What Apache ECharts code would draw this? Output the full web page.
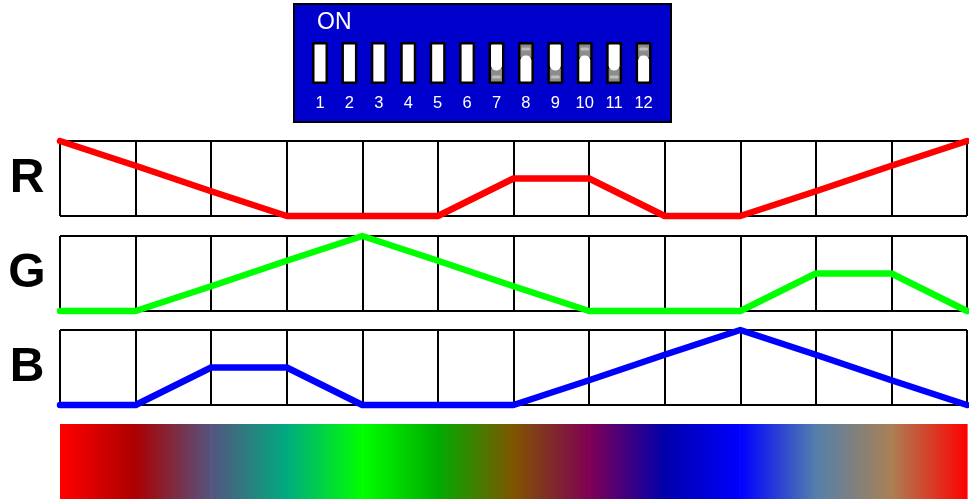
<!DOCTYPE html>
<html>
<head>
<meta charset="utf-8">
<script src="https://cdn.jsdelivr.net/npm/echarts@6/dist/echarts.min.js"></script>
<style>html,body{margin:0;padding:0;background:#fff}#c{width:969px;height:499px}</style>
</head>
<body>
<div id="c"></div>
<script>
// ---- data ----
var positions = [0,1,2,3,4,5,6,7,8,9,10,11,12];
var redValues   = [1, 0.67, 0.33, 0, 0, 0, 0.5, 0.5, 0, 0, 0.33, 0.67, 1];
var greenValues = [0, 0, 0.33, 0.67, 1, 0.67, 0.33, 0, 0, 0, 0.5, 0.5, 0];
var blueValues  = [0, 0, 0.5, 0.5, 0, 0, 0, 0.33, 0.67, 1, 0.67, 0.33, 0];
var channelLabels = ['R', 'G', 'B'];
var switchLabels = ['1','2','3','4','5','6','7','8','9','10','11','12'];
// 0 = plain, 1 = actuator shaded at bottom, 2 = actuator shaded at top
var switchStates = [0,0,0,0,0,0,1,2,1,2,1,2];
var switchTitle = 'ON';

var FONT = '"Liberation Sans", Arial, sans-serif';
var chart = echarts.init(document.getElementById('c'), null, {renderer: 'canvas'});

function pairs(vals) { return positions.map(function (p, i) { return [p, vals[i]]; }); }
function toColor(i) {
  return 'rgb(' + Math.round(redValues[i] * 255) + ',' + Math.round(greenValues[i] * 255) + ',' + Math.round(blueValues[i] * 255) + ')';
}
var stopColors = positions.map(function (p, i) { return toColor(i); });

var panelTops = [141, 236, 330];
var grids = [{left: 305.3, width: 353, top: 42, height: 42, containLabel: false, outerBoundsMode: 'none'}];
panelTops.forEach(function (t) { grids.push({left: 60, width: 907, top: t, height: 75, containLabel: false, outerBoundsMode: 'none'}); });
grids.push({left: 60, width: 907, top: 424, height: 80, containLabel: false, outerBoundsMode: 'none'});

var xAxes = [{
  gridIndex: 0, type: 'category', data: switchLabels,
  axisLine: {show: false}, axisTick: {show: false}, splitLine: {show: false},
  axisLabel: {color: '#fff', fontSize: 16.5, fontFamily: FONT, margin: 11}
}];
var yAxes = [{gridIndex: 0, type: 'value', min: 0, max: 1, show: false}];
for (var g = 1; g <= 3; g++) {
  xAxes.push({
    gridIndex: g, type: 'value', min: 0, max: 12, interval: 1,
    axisLine: {show: false}, axisTick: {show: false}, axisLabel: {show: false},
    splitLine: {show: true, lineStyle: {color: '#000', width: 2}}
  });
  yAxes.push({
    gridIndex: g, type: 'value', min: 0, max: 1, interval: 1,
    name: channelLabels[g - 1], nameLocation: 'middle', nameRotate: 0, nameGap: 33,
    nameTextStyle: {fontSize: 48, fontWeight: 'bold', color: '#000', fontFamily: FONT, align: 'center'},
    axisLine: {show: false}, axisTick: {show: false}, axisLabel: {show: false},
    splitLine: {show: true, lineStyle: {color: '#000', width: 2}}
  });
}
xAxes.push({gridIndex: 4, type: 'value', min: 0, max: 12, show: false});
yAxes.push({gridIndex: 4, type: 'value', min: 0, max: 1, show: false});

function lineSeries(idx, vals, color) {
  return {
    type: 'line', xAxisIndex: idx, yAxisIndex: idx, data: pairs(vals),
    showSymbol: false, symbol: 'none', clip: false, animation: false, z: 5,
    lineStyle: {color: color, width: 6.5, cap: 'round', join: 'round'}
  };
}

var option = {
  animation: false,
  backgroundColor: '#fff',
  grid: grids,
  xAxis: xAxes,
  yAxis: yAxes,
  graphic: [
    {type: 'rect', z: -10, shape: {x: 294, y: 4, width: 377, height: 118},
     style: {fill: '#0000CC', stroke: '#000', lineWidth: 2}},
    {type: 'text', z: 10, left: 317, top: 11,
     style: {text: switchTitle, fill: '#fff', font: '23px ' + FONT}}
  ],
  series: [
    {
      type: 'custom', xAxisIndex: 0, yAxisIndex: 0, z: 5,
      data: switchStates.map(function (s, i) { return [i, s]; }),
      renderItem: function (params, api) {
        var i = api.value(0), s = api.value(1);
        var top = api.coord([i, 1]), bot = api.coord([i, 0]);
        var w = 16, x = top[0] - w / 2, y = top[1], h = bot[1] - top[1];
        var ix = x + 2.5, iw = w - 5, iy = y + 2.5, ih = h - 5;
        var children = [{type: 'rect', shape: {x: x, y: y, width: w, height: h, r: 1.5}, style: {fill: '#000'}}];
        var grayH = 11;
        if (s === 0) {
          children.push({type: 'rect', shape: {x: ix, y: iy, width: iw, height: ih}, style: {fill: '#fff'}});
        } else if (s === 1) {
          children.push({type: 'rect', shape: {x: ix, y: iy + ih - grayH - 2, width: iw, height: grayH + 2}, style: {fill: '#8c8c8c'}});
          children.push({type: 'rect', shape: {x: ix + 1, y: iy + ih - 6, width: iw - 2, height: 3, r: 1.5}, style: {fill: '#bdbdbd'}});
          children.push({type: 'rect', shape: {x: ix, y: iy, width: iw, height: ih - grayH, r: [1, 1, 5, 5]}, style: {fill: '#fff'}});
        } else {
          children.push({type: 'rect', shape: {x: ix, y: iy, width: iw, height: grayH + 2}, style: {fill: '#8c8c8c'}});
          children.push({type: 'rect', shape: {x: ix + 1, y: iy + 3, width: iw - 2, height: 3, r: 1.5}, style: {fill: '#bdbdbd'}});
          children.push({type: 'rect', shape: {x: ix, y: iy + grayH, width: iw, height: ih - grayH, r: [5, 5, 1, 1]}, style: {fill: '#fff'}});
        }
        return {type: 'group', children: children};
      }
    },
    lineSeries(1, redValues, '#ff0000'),
    lineSeries(2, greenValues, '#00ff00'),
    lineSeries(3, blueValues, '#0000ff'),
    {
      type: 'custom', xAxisIndex: 4, yAxisIndex: 4,
      data: positions.slice(0, positions.length - 1).map(function (p) { return [p]; }),
      renderItem: function (params, api) {
        var i = api.value(0);
        var a = api.coord([i, 1]), b = api.coord([i + 1, 0]);
        return {
          type: 'rect',
          shape: {x: a[0], y: a[1], width: b[0] - a[0] + 0.6, height: b[1] - a[1]},
          style: {fill: new echarts.graphic.LinearGradient(0, 0, 1, 0, [
            {offset: 0, color: stopColors[i]}, {offset: 1, color: stopColors[i + 1]}
          ])}
        };
      }
    }
  ]
};
chart.setOption(option);
</script>
</body>
</html>
